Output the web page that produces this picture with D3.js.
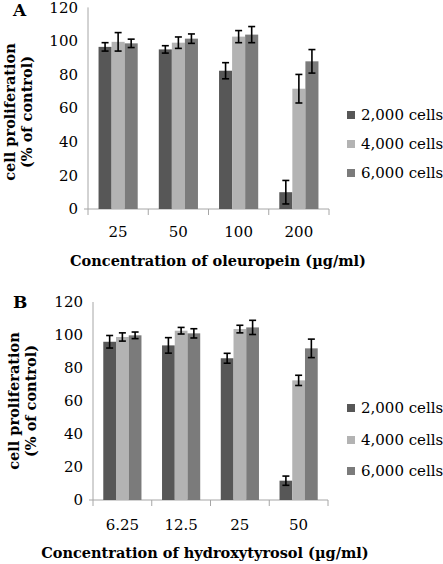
<!DOCTYPE html>
<html><head><meta charset="utf-8">
<script src="https://cdn.jsdelivr.net/npm/d3@7"></script>
<style>
body{margin:0;background:#fff;}
svg{display:block;}
text{font-family:"DejaVu Serif",serif;fill:#000;}
</style></head>
<body>
<svg id="c" width="443" height="564"></svg>
<script>
const series = ["2,000 cells","4,000 cells","6,000 cells"];
const colors = ["#575757","#b3b3b3","#7b7b7b"];
const yTicks = [0,20,40,60,80,100,120];

const catsA = ["25","50","100","200"];
const valsA = [[96.5,95,82.3,10],[99.5,99,102.6,71.6],[98.6,101.4,103.8,87.9]];
const errA  = [[2.5,2.2,4.8,7],[5.5,3.4,3.6,8.5],[2.5,2.8,4.8,7]];

const catsB = ["6.25","12.5","25","50"];
const valsB = [[95.9,93.7,85.9,11.7],[98.8,102.6,103.6,72.5],[99.8,101,104.6,91.9]];
const errB  = [[3.8,4.7,3,2.8],[2.5,2,2.3,3.1],[2,2.8,4.3,5.6]];

const svg = d3.select("#c");

function panel(o){
  const g = svg.append("g");
  const x = d3.scaleBand().domain(o.cats).range([o.x0,o.x1]).paddingInner(0.35).paddingOuter(0.175);
  const xs = d3.scaleBand().domain(d3.range(series.length)).range([0,x.bandwidth()]);
  const y = d3.scaleLinear().domain([0,120]).range([o.y0,o.y1]);

  g.append("line").attr("x1",o.x0).attr("x2",o.x0).attr("y1",y(120)).attr("y2",y(0)).attr("stroke","#a6a6a6");
  g.append("line").attr("x1",o.x0-4).attr("x2",o.x1).attr("y1",y(0)).attr("y2",y(0)).attr("stroke","#a6a6a6");
  const edges = o.cats.map(c=>x(c)-x.step()*x.paddingInner()/2);
  edges.push(o.x1); edges[0]=o.x0;
  g.selectAll(".xt").data(edges).join("line").attr("x1",d=>d).attr("x2",d=>d).attr("y1",y(0)).attr("y2",y(0)+6).attr("stroke","#a6a6a6");

  g.selectAll(".yl").data(yTicks).join("text").attr("x",o.x0-10).attr("y",d=>y(d)).attr("dy","0.35em")
    .attr("text-anchor","end").style("font-size","15px").text(d=>d);

  o.cats.forEach((c,ci)=>{
    series.forEach((s,si)=>{
      const v=o.vals[si][ci], e=o.errs[si][ci];
      const bx=x(c)+xs(si), bw=xs.bandwidth();
      g.append("rect").attr("x",bx).attr("y",y(v)).attr("width",bw).attr("height",y(0)-y(v)).attr("fill",colors[si]);
      const cx=bx+bw/2;
      g.append("line").attr("x1",cx).attr("x2",cx).attr("y1",y(v+e)).attr("y2",y(v-e)).attr("stroke","#000").attr("stroke-width",1.6);
      [v+e,v-e].forEach(t=>g.append("line").attr("x1",cx-3.5).attr("x2",cx+3.5).attr("y1",y(t)).attr("y2",y(t)).attr("stroke","#000").attr("stroke-width",1.6));
    });
  });

  g.selectAll(".xl").data(o.cats).join("text").attr("x",d=>x(d)+x.bandwidth()/2).attr("y",o.xlY).attr("dy","0.35em")
    .attr("text-anchor","middle").style("font-size","15px").text(d=>d);

  g.append("text").attr("x",o.xtX).attr("y",o.xtY).attr("dy","0.35em").attr("text-anchor","middle")
    .style("font-size","14.5px").style("font-weight","bold").text(o.xtitle);

  const yt = g.append("text").attr("transform",`translate(${o.ytX},${o.ytY}) rotate(-90)`).attr("text-anchor","middle")
    .style("font-size","14.5px").style("font-weight","bold");
  yt.append("tspan").attr("x",0).attr("dy","0.35em").text("cell proliferation");
  yt.append("tspan").attr("x",0).attr("dy","1.18em").text("(% of control)");

  g.append("text").attr("x",13).attr("y",o.labY).attr("dy","0.35em").style("font-size","17px").style("font-weight","bold").text(o.label);

  series.forEach((s,si)=>{
    const ly=o.legY[si];
    g.append("rect").attr("x",o.legX).attr("y",ly-4).attr("width",8).attr("height",8).attr("fill",colors[si]);
    g.append("text").attr("x",o.legX+14).attr("y",ly).attr("dy","0.35em").style("font-size","15px").text(s);
  });
}

panel({cats:catsA, vals:valsA, errs:errA, x0:88, x1:329, y0:209, y1:7.4, xlY:232,
  xtitle:"Concentration of oleuropein (µg/ml)", xtX:218, xtY:261, ytX:10, ytY:112,
  label:"A", labY:10, legX:347, legY:[115,144,173]});
panel({cats:catsB, vals:valsB, errs:errB, x0:93, x1:328, y0:500, y1:302, xlY:525,
  xtitle:"Concentration of hydroxytyrosol (µg/ml)", xtX:205, xtY:553, ytX:14, ytY:401,
  label:"B", labY:302, legX:347, legY:[408,440,471]});
</script>
</body></html>
